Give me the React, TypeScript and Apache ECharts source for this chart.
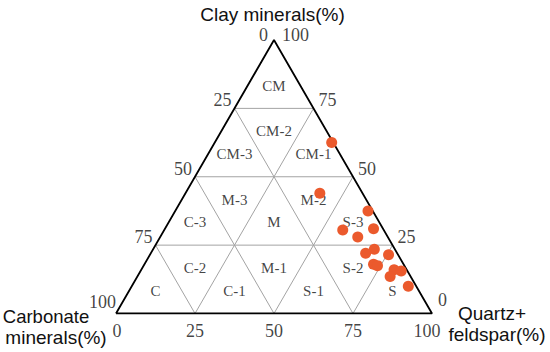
import React, { useEffect, useRef } from "react";
import * as echarts from "echarts";

// Sample compositions (%)
const quartzFeldspar = [37, 42.5, 61, 56.5, 66, 62.5, 70, 68, 75.5, 72.5, 74, 80, 82.5, 80, 87.5];
const carbonateMinerals = [0.5, 13.5, 1.5, 13, 3, 9.5, 6.5, 10, 3, 9.5, 8.5, 4, 2, 6.5, 2.5];
const clayMinerals = [62.5, 44, 37.5, 30.5, 31, 28, 23.5, 22, 21.5, 18, 17.5, 16, 15.5, 13.5, 10];

// Axis ticks and subdivision levels
const tickValues = [0, 25, 50, 75, 100];
const gridLevels = [25, 50, 75];

// Lithofacies fields (centroid compositions: quartz+feldspar %, clay %)
const regionNames = ["CM", "CM-3", "CM-2", "CM-1", "C-3", "M-3", "M", "M-2", "S-3", "C", "C-2", "C-1", "M-1", "S-1", "S-2", "S"];
const regionQuartz = [8.33, 8.33, 16.67, 33.33, 8.33, 16.67, 33.33, 41.67, 58.33, 8.33, 16.67, 33.33, 41.67, 58.33, 66.67, 83.33];
const regionClay = [83.33, 58.33, 66.67, 58.33, 33.33, 41.67, 33.33, 41.67, 33.33, 8.33, 16.67, 8.33, 16.67, 8.33, 16.67, 8.33];

const SQ = Math.sqrt(3) / 2;
const toXY = (q: number, clay: number) => [q + clay / 2, clay * SQ];

const NUM_FONT = "Liberation Serif, Times New Roman, serif";
const SANS = "Liberation Sans, Arial, sans-serif";

export default function App() {
  const ref = useRef<HTMLDivElement>(null);

  useEffect(() => {
    if (!ref.current) return;
    const chart = echarts.init(ref.current, null, { renderer: "svg" });

    const lineSeries = (pts: number[][], color: string, width: number, z = 1) => ({
      type: "line",
      data: pts,
      symbol: "none",
      silent: true,
      z,
      lineStyle: { color, width },
      animation: false,
    });

    const gridLines: any[] = [];
    gridLevels.forEach((L) => {
      gridLines.push(lineSeries([toXY(0, L), toXY(100 - L, L)], "#a3a3a3", 1));
      gridLines.push(lineSeries([toXY(L, 0), toXY(L, 100 - L)], "#a3a3a3", 1));
      gridLines.push(lineSeries([toXY(100 - L, 0), toXY(0, 100 - L)], "#a3a3a3", 1));
    });

    const outline = lineSeries(
      [toXY(0, 0), toXY(100, 0), toXY(0, 100), toXY(0, 0)],
      "#000",
      1.8,
      3
    );

    const labelSeries = (data: any[], font: any) => ({
      type: "scatter",
      symbolSize: 1,
      silent: true,
      z: 4,
      itemStyle: { color: "transparent" },
      label: {
        show: true,
        position: "inside",
        formatter: (p: any) => p.data.name,
        color: "#111",
        ...font,
      },
      data,
    });

    const numFont = { fontFamily: NUM_FONT, fontSize: 18 };

    const bottomTicks = tickValues.map((v) => ({
      name: String(v),
      value: toXY(v, 0),
      label: {
        align: "center",
        verticalAlign: "middle",
        offset: v === 0 ? [1, 17] : v === 100 ? [-5, 17] : [0, 17],
      },
    }));
    const leftTicks = tickValues.map((v) => ({
      name: String(v),
      value: toXY(0, 100 - v),
      label: {
        align: "right",
        verticalAlign: "middle",
        offset: v === 0 ? [-6, -5] : v === 100 ? [0, -12] : [-3, -8],
      },
    }));
    const rightTicks = tickValues.map((v) => ({
      name: String(v),
      value: toXY(100 - v, v),
      label: {
        align: "left",
        verticalAlign: "middle",
        offset: v === 100 ? [8, -5] : v === 0 ? [6, -13.5] : [5, -8],
      },
    }));

    const regionData = regionNames.map((n, i) => ({
      name: n,
      value: toXY(regionQuartz[i], regionClay[i]),
      label: { align: "center", verticalAlign: "middle" },
    }));

    const samples = quartzFeldspar.map((q, i) => ({
      value: toXY(q, clayMinerals[i]),
      carbonate: carbonateMinerals[i],
    }));

    const txt = (text: string, x: number, y: number, size = 19) => ({
      type: "text",
      x,
      y,
      style: {
        text,
        font: `${size}px ${SANS}`,
        fill: "#111",
        align: "center",
        verticalAlign: "middle",
        textAlign: "center",
        textVerticalAlign: "middle",
      },
    });

    chart.setOption({
      animation: false,
      grid: { left: 116, top: 40, width: 316, height: 273.5, show: false },
      xAxis: { type: "value", min: 0, max: 100, show: false },
      yAxis: { type: "value", min: 0, max: 100 * SQ, show: false },
      graphic: [
        txt("Clay minerals(%)", 272.5, 14),
        txt("Carbonate", 46, 316, 18.5),
        txt("minerals(%)", 56, 337),
        txt("Quartz+", 492, 313),
        txt("feldspar(%)", 497, 334),
      ],
      series: [
        ...gridLines,
        outline,
        labelSeries(bottomTicks, numFont),
        labelSeries(leftTicks, numFont),
        labelSeries(rightTicks, numFont),
        labelSeries(regionData, { fontFamily: NUM_FONT, fontSize: 15 }),
        {
          type: "scatter",
          data: samples,
          symbol: "circle",
          symbolSize: 11,
          z: 5,
          silent: true,
          itemStyle: { color: "#eb5a2d", opacity: 1 },
        },
      ],
    });

    return () => chart.dispose();
  }, []);

  return (
    <div
      ref={ref}
      style={{ position: "absolute", left: 0, top: 0, width: 550, height: 352, background: "#fff" }}
    />
  );
}
